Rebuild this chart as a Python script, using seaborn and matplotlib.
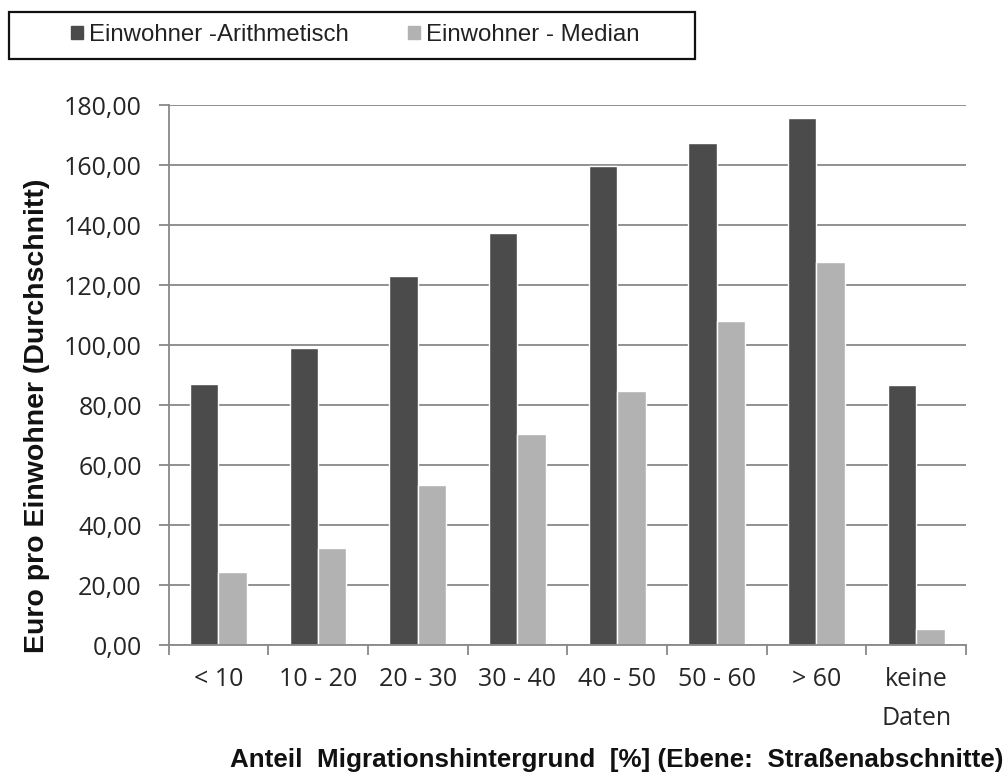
import numpy as np
import pandas as pd
import matplotlib
matplotlib.use("Agg")
import matplotlib.pyplot as plt
import seaborn as sns
from matplotlib.patches import Rectangle
from matplotlib.ticker import FixedLocator, FuncFormatter

categories = ["< 10", "10 - 20", "20 - 30", "30 - 40", "40 - 50", "50 - 60", "> 60", "keine\nDaten"]
arithmetisch = [87.0, 99.0, 123.0, 137.3, 159.8, 167.3, 175.8, 86.6]
median = [24.2, 32.2, 53.3, 70.2, 84.6, 108.0, 127.7, 5.2]
series_names = ["Einwohner -Arithmetisch", "Einwohner - Median"]
colors = ["#4b4b4b", "#b2b2b2"]

df = pd.DataFrame({
    "Kategorie": categories * 2,
    "Wert": arithmetisch + median,
    "Reihe": [series_names[0]] * len(categories) + [series_names[1]] * len(categories),
})

sns.set_style("white")
plt.rcParams["font.family"] = ["Liberation Sans", "DejaVu Sans"]

W, H = 1008, 775
fig = plt.figure(figsize=(W / 100, H / 100), dpi=100)
ax = fig.add_axes([168.5 / W, 1 - 645 / H, 797.5 / W, 540 / H])

sns.barplot(data=df, x="Kategorie", y="Wert", hue="Reihe", palette=colors,
            width=0.57, saturation=1, ax=ax, legend=False, errorbar=None)

grid_col = "#888888"
ax.set_ylim(0, 180)
ax.set_xlim(-0.5, len(categories) - 0.5)
ax.set_yticks(np.arange(0, 181, 20))
ax.yaxis.set_major_formatter(FuncFormatter(lambda v, p: f"{v:.2f}".replace(".", ",")))
ax.yaxis.grid(True, color=grid_col, linewidth=1.3)
ax.set_axisbelow(True)

for s in ["top", "right"]:
    ax.spines[s].set_visible(False)
for s in ["left", "bottom"]:
    ax.spines[s].set_color(grid_col)
    ax.spines[s].set_linewidth(1.3)

tick_font = ["Open Sans", "DejaVu Sans"]
ax.tick_params(axis="y", which="major", left=True, length=7.2, width=1.3, color=grid_col,
               labelsize=18, labelcolor="#262626", pad=12)
for lbl in ax.get_yticklabels():
    lbl.set_fontfamily(tick_font)

ax.xaxis.set_minor_locator(FixedLocator(np.arange(-0.5, len(categories), 1.0)))
ax.tick_params(axis="x", which="minor", bottom=True, length=7.2, width=1.3, color=grid_col)
ax.tick_params(axis="x", which="major", bottom=False, length=0, labelsize=18,
               labelcolor="#262626", pad=16)
for lbl in ax.get_xticklabels():
    lbl.set_fontfamily(tick_font)
    lbl.set_linespacing(1.7)
    lbl.set_verticalalignment("top")

ax.set_xlabel("")
ax.set_ylabel("")

fig.text(37 / W, 1 - 416 / H, "Euro pro Einwohner (Durchschnitt)", rotation=90,
         ha="center", va="center", fontsize=20.5, fontweight="bold", color="#111111")

fig.text(617 / W, 1 - 767 / H, "Anteil  Migrationshintergrund  [%] (Ebene:  Straßenabschnitte)",
         ha="center", va="baseline", fontsize=18.7, fontweight="bold", color="#111111")

# legend frame
fig.patches.append(Rectangle((9 / W, 1 - 58.5 / H), 686 / W, 46.5 / H, transform=fig.transFigure,
                             fill=False, edgecolor="#111111", linewidth=1.6))

handles = [plt.Rectangle((0, 0), 1, 1, color=c) for c in colors]
leg = fig.legend(handles, series_names, loc="center left",
                 bbox_to_anchor=(71 / W, 1 - 35 / H), ncol=2, frameon=False,
                 fontsize=17.3, handlelength=0.5, handleheight=0.5, handletextpad=0.25,
                 columnspacing=2.45, borderpad=0, borderaxespad=0)
for t in leg.get_texts():
    t.set_color("#222222")

fig.savefig("out.png", dpi=100, facecolor="white")
